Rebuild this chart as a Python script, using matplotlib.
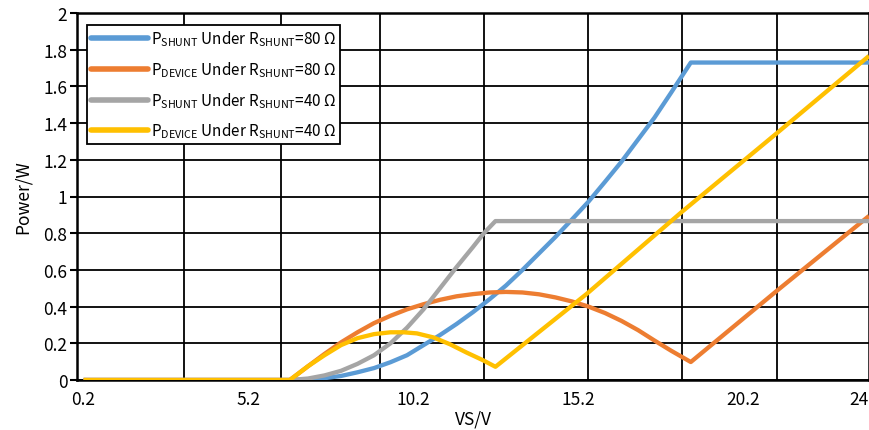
import matplotlib
matplotlib.use("Agg")
import matplotlib.pyplot as plt

plt.rcParams['font.family'] = ['Noto Sans CJK SC', 'DejaVu Sans']
plt.rcParams['mathtext.default'] = 'regular'

# supply voltage (V) and power (W) for each curve
vs_shunt80 = [0.2, 6.45, 7.0, 7.5, 8.0, 8.5, 9.0, 9.5, 10.0, 10.5, 11.0, 11.5, 12.0,
              12.5, 13.0, 13.5, 14.0, 14.5, 15.0, 15.5, 16.0, 16.5, 17.0, 17.5,
              18.0, 18.6, 24.0]
p_shunt80 = [0, 0, 0.003, 0.01, 0.022, 0.042, 0.065, 0.097, 0.135, 0.19, 0.245,
             0.305, 0.37, 0.44, 0.515, 0.6, 0.69, 0.78, 0.875, 0.972, 1.08, 1.19,
             1.31, 1.43, 1.565, 1.73, 1.73]

vs_device80 = [0.2, 6.45, 7.0, 7.5, 8.0, 8.5, 9.0, 9.5, 10.0, 10.5, 11.0, 11.5, 12.0,
               12.5, 13.0, 13.5, 14.0, 14.5, 15.0, 15.5, 16.0, 16.5, 17.0, 17.5,
               18.0, 18.6, 21.2, 24.0]
p_device80 = [0, 0, 0.075, 0.142, 0.205, 0.26, 0.31, 0.35, 0.385, 0.413, 0.437,
              0.456, 0.468, 0.477, 0.48, 0.477, 0.467, 0.45, 0.428, 0.4, 0.365,
              0.322, 0.272, 0.215, 0.16, 0.098, 0.485, 0.894]

vs_shunt40 = [0.2, 6.45, 7.0, 7.5, 8.0, 8.5, 9.0, 9.5, 10.0, 10.5, 11.0, 11.5, 12.0,
              12.33, 12.68, 24.0]
p_shunt40 = [0, 0, 0.008, 0.025, 0.05, 0.088, 0.135, 0.2, 0.285, 0.385, 0.5,
             0.615, 0.725, 0.8, 0.866, 0.866]

vs_device40 = [0.2, 6.45, 7.0, 7.5, 8.0, 8.5, 9.0, 9.5, 9.9, 10.3, 10.8, 11.3, 11.8,
               12.3, 12.68, 15.45, 18.32, 21.2, 24.0]
p_device40 = [0, 0, 0.075, 0.135, 0.19, 0.228, 0.25, 0.26, 0.26, 0.254, 0.232,
              0.195, 0.15, 0.108, 0.072, 0.47, 0.915, 1.344, 1.766]

labels = ['P$_{SHUNT}$ Under R$_{SHUNT}$=80 Ω',
          'P$_{DEVICE}$ Under R$_{SHUNT}$=80 Ω',
          'P$_{SHUNT}$ Under R$_{SHUNT}$=40 Ω',
          'P$_{DEVICE}$ Under R$_{SHUNT}$=40 Ω']
colors = ['#5B9BD5', '#ED7D31', '#A5A5A5', '#FFC000']

x_ticks = [0.2, 5.2, 10.2, 15.2, 20.2, 24]
x_ticklabels = ['0.2', '5.2', '10.2', '15.2', '20.2', '24']
x_grid = [3.24, 6.18, 9.18, 12.33, 15.48, 18.33, 21.21]
y_ticks = [0, 0.2, 0.4, 0.6, 0.8, 1, 1.2, 1.4, 1.6, 1.8, 2]
y_ticklabels = ['0', '0.2', '0.4', '0.6', '0.8', '1', '1.2', '1.4', '1.6', '1.8', '2']

fig = plt.figure(figsize=(8.7, 4.31), dpi=100)
ax = fig.add_axes([77 / 870, 50 / 431, 792 / 870, 367 / 431])

series = [(vs_shunt80, p_shunt80), (vs_device80, p_device80),
          (vs_shunt40, p_shunt40), (vs_device40, p_device40)]
for (x, y), c, lab in zip(series, colors, labels):
    ax.plot(x, y, color=c, lw=3.1, label=lab, solid_capstyle='butt', zorder=3)

ax.set_xlim(0, 24)
ax.set_ylim(0, 2)

ax.set_xticks(x_ticks)
ax.set_xticklabels(x_ticklabels)
ax.set_xticks(x_grid, minor=True)
ax.set_yticks(y_ticks)
ax.set_yticklabels(y_ticklabels)
ax.tick_params(axis='x', which='both', length=0, pad=7, labelsize=12.5)
ax.tick_params(axis='y', length=5, width=1.5, pad=2, labelsize=12.5)
ax.get_xticklabels()[-1].set_horizontalalignment('right')

ax.grid(True, axis='y', color='black', lw=1.3, zorder=1)
ax.grid(True, axis='x', which='minor', color='black', lw=1.3, zorder=1)
ax.grid(False, axis='x', which='major')
for s in ax.spines.values():
    s.set_linewidth(1.8)
    s.set_color('black')

ax.set_xlabel('VS/V', fontsize=12.5, labelpad=1)
ax.set_ylabel('Power/W', fontsize=12.5, labelpad=8)

leg = ax.legend(loc='upper left', bbox_to_anchor=(0.013, 0.968), fontsize=11,
                handlelength=3.7, handletextpad=0.2, labelspacing=0.72,
                borderpad=0.25, borderaxespad=0, fancybox=False, framealpha=1)
leg.get_frame().set_edgecolor('black')
leg.get_frame().set_linewidth(1.3)
for h in leg.get_lines():
    h.set_linewidth(4)
    h.set_solid_capstyle('round')

fig.savefig('out.png', dpi=100)
